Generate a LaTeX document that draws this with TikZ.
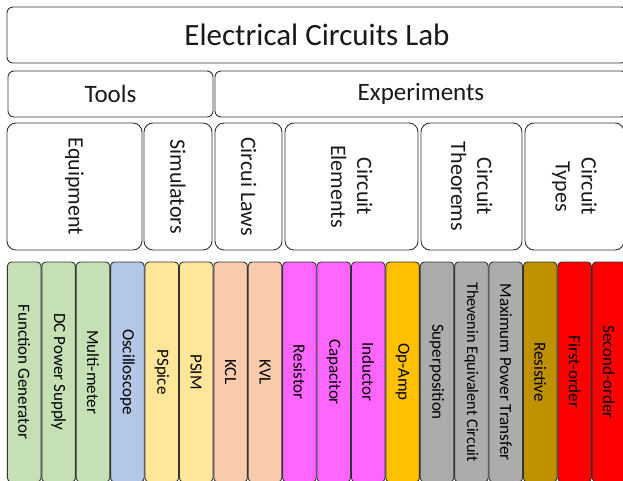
\documentclass[tikz,border=0pt]{standalone}
\usepackage{fontspec}
\setmainfont{Carlito}
\usepackage{xcolor}
\usepackage{tikz}
\definecolor{eqgreen}{HTML}{C5E0B4}
\definecolor{scopeblue}{HTML}{B4C7E7}
\definecolor{simyellow}{HTML}{FFE699}
\definecolor{laworange}{HTML}{F8CBAD}
\definecolor{elemmagenta}{HTML}{FF66FF}
\definecolor{opamber}{HTML}{FFC000}
\definecolor{thmgray}{HTML}{AEABAB}
\definecolor{resgold}{HTML}{BF9000}
\definecolor{typered}{HTML}{FF0000}

\begin{document}
\begin{tikzpicture}[x=1pt,y=-1pt,
	box/.style={draw=black!80,line width=0.9pt,rounded corners=6pt,fill=white,inner sep=0pt,text=black!90},
	group/.style={box,rotate=-90,rounded corners=9pt,align=center,
		font=\fontsize{22}{26}\selectfont,minimum width=127pt},
	leaf/.style={box,rotate=-90,rounded corners=4pt,text=black,
		font=\fontsize{17}{20}\selectfont,minimum width=220pt,minimum height=33.6pt}]
			\useasboundingbox (0,0) rectangle (623,481);
			\clip (0,0) rectangle (623,481);
			% top rows
			\node[box,minimum width=620pt,minimum height=56pt,font=\fontsize{31}{37}\selectfont]
			(title) at (317,35) {Electrical Circuits Lab};
			\node[box,minimum width=205pt,minimum height=46pt,font=\fontsize{25}{30}\selectfont]
			(tools) at (110.5,94) {Tools};
			\node[box,minimum width=412pt,minimum height=46pt,font=\fontsize{25}{30}\selectfont]
			(experiments) at (421,94) {Experiments};
			% groups
			\node[group,minimum height=135pt] (equipment) at (74.5,186.5) {Equipment};
			\node[group,minimum height=68pt] (simulators) at (178,186.5) {Simulators};
			\node[group,minimum height=67pt] (laws) at (248.5,186.5) {Circui Laws};
			\node[group,minimum height=133pt] (elements) at (351.5,186.5) {Circuit\\Elements};
			\node[group,minimum height=101pt] (theorems) at (471.5,186.5) {Circuit\\Theorems};
			\node[group,minimum height=99pt] (types) at (574.5,186.5) {Circuit\\Types};
			% leaves
			\node[leaf,fill=eqgreen] (fgen) at (24.2,372) {Function Generator};
			\node[leaf,fill=eqgreen] (dcps) at (58.6,372) {DC Power Supply};
			\node[leaf,fill=eqgreen] (mmeter) at (93,372) {Multi-meter};
			\node[leaf,fill=scopeblue] (scope) at (127.4,372) {Oscilloscope};
			\node[leaf,fill=simyellow] (pspice) at (161.8,372) {PSpice};
			\node[leaf,fill=simyellow] (psim) at (196.2,372) {PSIM};
			\node[leaf,fill=laworange] (kcl) at (230.6,372) {KCL};
			\node[leaf,fill=laworange] (kvl) at (265,372) {KVL};
			\node[leaf,fill=elemmagenta] (res) at (299.4,372) {Resistor};
			\node[leaf,fill=elemmagenta] (cap) at (333.8,372) {Capacitor};
			\node[leaf,fill=elemmagenta] (ind) at (368.2,372) {Inductor};
			\node[leaf,fill=opamber] (opamp) at (402.6,372) {Op-Amp};
			\node[leaf,fill=thmgray] (superpos) at (437,372) {Superposition};
			\node[leaf,fill=thmgray,font=\fontsize{16.3}{20}\selectfont] (thevenin) at (471.4,372) {Thevenin Equivalent Circuit};
			\node[leaf,fill=thmgray] (maxpow) at (505.8,372) {Maximum Power Transfer};
			\node[leaf,fill=resgold] (resistive) at (540.2,372) {Resistive};
			\node[leaf,fill=typered] (first) at (574.6,372) {First-order};
			\node[leaf,fill=typered] (second) at (609,372) {Second-order};
		\end{tikzpicture}
\end{document}
